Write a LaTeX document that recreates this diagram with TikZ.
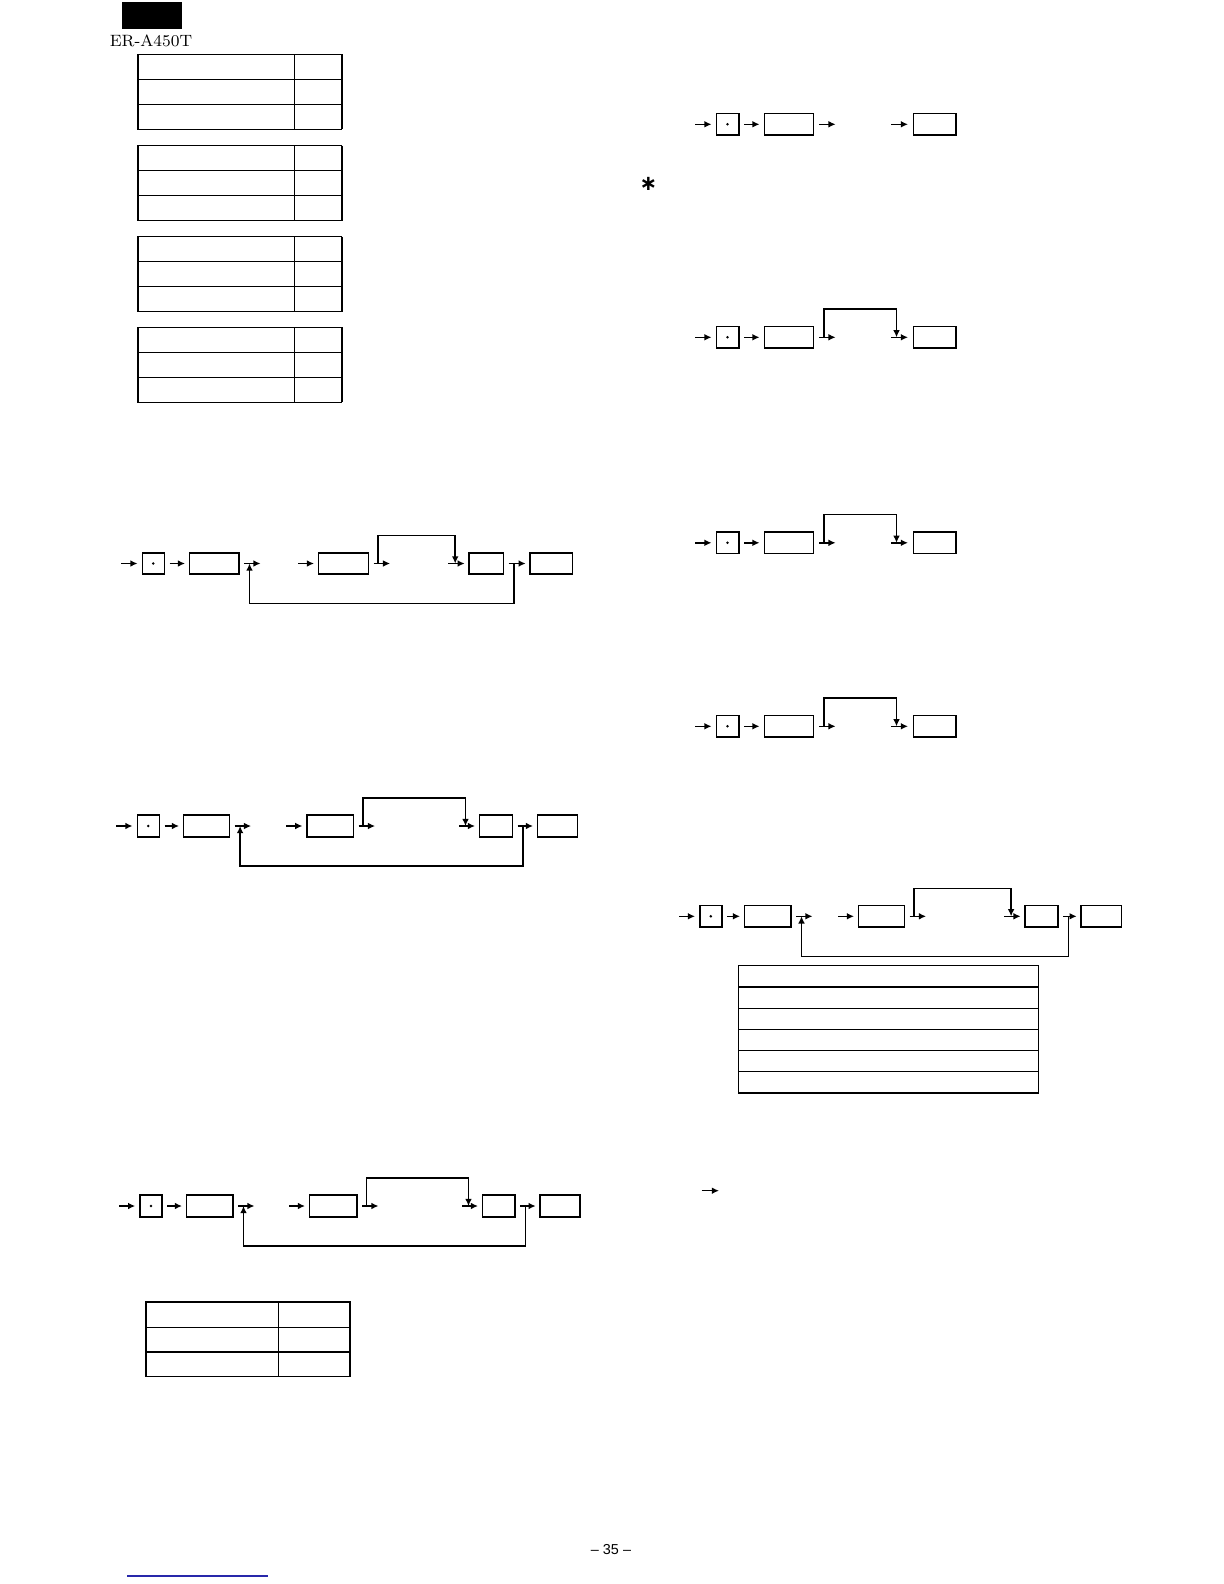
\documentclass[tikz,border=0pt]{standalone}
\usepackage{fontspec}
\usepackage{xcolor}
\usepackage{tikz}
\usetikzlibrary{arrows.meta}
\newfontfamily\pagefont{Liberation Sans}
\newfontfamily\starfont{DejaVu Sans}
\definecolor{linkblue}{RGB}{40,40,170}
\tikzset{every node/.append style={font=\footnotesize}}
\tikzset{keybox/.style={draw, line width=0.8pt, minimum height=10.75pt, inner sep=0pt}}
\tikzset{flow/.style={line width=0.75pt}}
\tikzset{grid/.style={line width=0.6pt}}

\begin{document}
\begin{tikzpicture}[x=0.5pt, y=-0.5pt, >={Latex[length=3.6pt,width=3.4pt]}]
    \useasboundingbox (0,0) rectangle (1224,1584);
    \fill (122,2) rectangle (182,29);
    \node[font=\fontsize{8.2}{10}\selectfont] (model) at (151,41) {ER-A450T};
    \foreach \t in {54.3,145.7,236.7,327.3} {
        \draw[grid] (137.7,\t) rectangle (341.7,\t+75);
        \draw[grid] (137.7,\t+25) -- (341.7,\t+25) (137.7,\t+50) -- (341.7,\t+50);
        \draw[grid] (294.3,\t) -- (294.3,\t+75);
        \draw[line width=1pt] (137.7,\t) -- (137.7,\t+75) (341.7,\t) -- (341.7,\t+75);
    }
    \draw[grid] (145.7,1302) rectangle (350,1376.7);
    \draw[grid] (145.7,1327.3) -- (350,1327.3) (145.7,1352) -- (350,1352);
    \draw[grid] (278.3,1302) -- (278.3,1376.7);
    \draw[line width=1pt] (145.7,1302) -- (145.7,1376.7) (350,1302) -- (350,1376.7);
    \draw[grid] (738.3,965.7) rectangle (1038.3,1093);
    \foreach \r in {1,...,5}
        \draw[grid] (738.3,965.7+21.22*\r) -- (1038.3,965.7+21.22*\r);
    \foreach \n/\y/\xd/\xa/\wa/\xb/\wb/\xc/\wc/\xe/\we in {
        a/563.5/153.3/214/24.7/343.3/25/486.2/17.2/551.2/21.2,
        b/826/148.3/206.3/23/330/23.3/495.8/16.5/557.3/20,
        c/1206/151/209.5/23.2/333/23.7/498.5/16.2/560/20,
        e/916.3/710.8/767.5/23.2/881.3/23/1041.3/16.4/1101.2/20.2} {
        \node[keybox, minimum width=11pt] (dot\n) at (\xd,\y) {};
        \fill (dot\n) circle (0.7pt);
        \node[keybox, minimum width=\wa pt] (ka\n) at (\xa,\y) {};
        \node[keybox, minimum width=\wb pt] (kb\n) at (\xb,\y) {};
        \node[keybox, minimum width=\wc pt] (kc\n) at (\xc,\y) {};
        \node[keybox, minimum width=\we pt] (kd\n) at (\xe,\y) {};
        \draw[flow, <-] ([xshift=-2pt]dot\n.west) -- ++(-8.25pt,0);
        \draw[flow, ->] ([xshift=2.25pt]dot\n.east) -- ([xshift=-1.75pt]ka\n.west);
        \draw[flow, ->] ([xshift=2.25pt]ka\n.east) -- ++(8.25pt,0);
        \draw[flow, <-] ([xshift=-1.75pt]kb\n.west) -- ++(-8.25pt,0);
        \draw[flow, ->] ([xshift=2.25pt]kb\n.east) -- ++(8.25pt,0);
        \draw[flow, <-] ([xshift=-1.75pt]kc\n.west) -- ++(-8.25pt,0);
        \draw[flow, ->] ([xshift=2.25pt]kc\n.east) -- ([xshift=-1.75pt]kd\n.west);
        \draw[flow, ->] ([xshift=4.5pt]kb\n.east) -- ++(0,14pt) -| ([xshift=-6.5pt]kc\n.west);
        \draw[flow, ->] ([xshift=5pt]kc\n.east) -- ++(0,-20pt) -| ([xshift=5pt]ka\n.east);
    }
    \foreach \n/\y in {1/124.3, 2/337.3, 3/542.8, 4/726.3} {
        \node[keybox, minimum width=11.2pt] (rdot\n) at (727.5,\y) {};
        \fill (rdot\n) circle (0.7pt);
        \node[keybox, minimum width=24.5pt] (rka\n) at (788.8,\y) {};
        \node[keybox, minimum width=21.3pt] (rkb\n) at (934.6,\y) {};
        \draw[flow, <-] ([xshift=-2pt]rdot\n.west) -- ++(-8.25pt,0);
        \draw[flow, ->] ([xshift=2.25pt]rdot\n.east) -- ([xshift=-2pt]rka\n.west);
        \draw[flow, ->] ([xshift=2.5pt]rka\n.east) -- ++(8.25pt,0);
        \draw[flow, <-] ([xshift=-2.25pt]rkb\n.west) -- ++(-8.5pt,0);
    }
    \foreach \n in {2,3,4}
        \draw[flow, ->] ([xshift=5pt]rka\n.east) -- ++(0,14.25pt) -| ([xshift=-8pt]rkb\n.west);
    \node[font=\starfont\bfseries\fontsize{10.5}{10.5}\selectfont, inner sep=0pt] (star) at (648.5,184) {∗};
    \coordinate (note) at (701.7,1190.7);
    \draw[flow, ->] (note) -- ++(8.65pt,0);
    \node[font=\pagefont\fontsize{7.2}{9}\selectfont] (page) at (611,1550) {– 35 –};
    \draw[linkblue, line width=0.6pt] (127,1576) -- (268,1576);
\end{tikzpicture}
\end{document}
